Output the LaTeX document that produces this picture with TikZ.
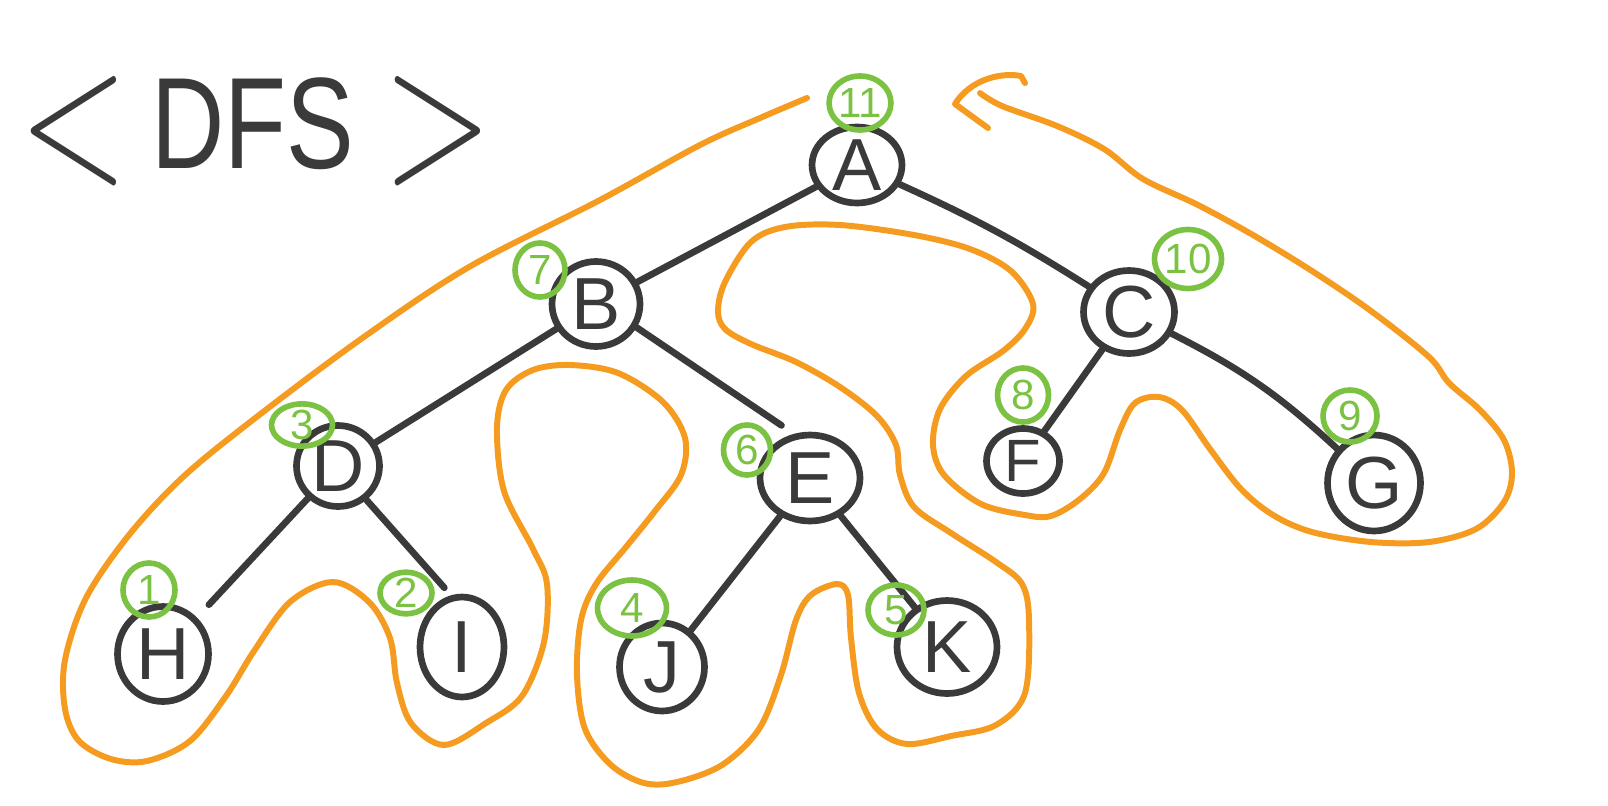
\documentclass[tikz,border=0pt]{standalone}
\usepackage{fontspec}
\setmainfont{Liberation Sans}
\usetikzlibrary{shapes.geometric}
\definecolor{ink}{HTML}{3A3A3A}
\definecolor{marker}{HTML}{F49B20}
\definecolor{leaf}{HTML}{7BC142}

\begin{document}
\begin{tikzpicture}[x=0.02cm,y=-0.02cm,
    dims/.style 2 args={minimum width=#1cm,minimum height=#2cm},
    vtx/.style={ellipse,draw=ink,line width=3.8pt,inner sep=0pt,text=ink,font=\fontsize{42}{42}\selectfont},
    num/.style={ellipse,draw=leaf,line width=3.2pt,inner sep=0pt,text=leaf,font=\fontsize{24}{24}\selectfont},
    link/.style={draw=ink,line width=3.8pt,line cap=round},
    tour/.style={draw=marker,line width=3.4pt,line cap=round,line join=round}]

    \useasboundingbox (0,0) rectangle (1608,805);

    % titel
    \node[text=ink,font=\fontsize{74}{74}\selectfont,anchor=base] (heading) at (256,168)
        {\raisebox{-7pt}{\scalebox{3.27}[4.52]{$<$}}\hspace{13pt}\scalebox{0.78}[1]{DFS}\hspace{17pt}\raisebox{-7pt}{\scalebox{3.27}[4.52]{$>$}}};

    % knoten des baums
    \node[vtx,dims={1.80}{1.52}] (A) at (857,165) {A};
    \node[vtx,dims={1.76}{1.70}] (B) at (596,304) {B};
    \node[vtx,dims={1.82}{1.66}] (C) at (1129,312) {C};
    \node[vtx,dims={1.66}{1.62}] (D) at (338,466) {D};
    \node[vtx,dims={2.00}{1.72}] (E) at (810,478) {E};
    \node[vtx,dims={1.46}{1.30},font=\fontsize{34}{34}\selectfont] (F) at (1023,461) {F};
    \node[vtx,dims={1.86}{1.92}] (G) at (1374,483) {G};
    \node[vtx,dims={1.82}{1.90}] (H) at (163,654) {H};
    \node[vtx,dims={1.68}{2.00}] (I) at (462,647) {I};
    \node[vtx,dims={1.70}{1.76}] (J) at (662,667) {J};
    \node[vtx,dims={2.00}{1.86}] (K) at (947,647) {K};

    % kanten
    \draw[link] (A) -- (B);
    \draw[link] (A) to[bend left=4] (C);
    \draw[link] (B) -- (D);
    \draw[link,shorten >=0.3cm] (B.-30) -- (E.110);
    \draw[link,shorten >=0.35cm] (D) -- (H);
    \draw[link,shorten >=0.2cm] (D.-50) -- (I.102);
    \draw[link] (E) -- (J);
    \draw[link] (E) -- (K);
    \draw[link] (C) -- (F);
    \draw[link] (C) to[bend left=8] (G);

    % reihenfolge (gruen)
    \node[num,dims={1.04}{1.08}] (n1) at (149,590) {1};
    \node[num,dims={1.04}{0.82}] (n2) at (406,593) {2};
    \node[num,dims={1.22}{0.76}] (n3) at (302,425) {3};
    \node[num,dims={1.38}{1.12}] (n4) at (632,608) {4};
    \node[num,dims={1.12}{1.00}] (n5) at (896,610) {5};
    \node[num,dims={0.94}{1.00}] (n6) at (747,450) {6};
    \node[num,dims={1.00}{1.08}] (n7) at (540,270) {7};
    \node[num,dims={1.02}{1.08}] (n8) at (1023,395) {8};
    \node[num,dims={1.08}{1.04}] (n9) at (1350,416) {9};
    \node[num,dims={1.34}{1.18}] (n10) at (1188,259) {10};
    \node[num,dims={1.18}{1.08}] (n11) at (860,103) {11};

    % umlauf (orange)
    \draw[tour] plot[smooth,tension=0.55] coordinates {
        (807,98) (760,118) (700,145) (600,200) (469,267) (361,339) (254,419) (183,477)
        (129,535) (86,598) (65,660) (65,709) (79,741) (111,759) (147,761) (190,741)
        (226,696) (254,651) (290,602) (333,582) (369,602) (390,638) (397,683) (411,723)
        (444,745) (486,723) (522,696) (544,642) (547,584) (533,549) (504,491) (497,428)
        (506,390) (533,370) (570,365) (618,373) (663,402) (685,438) (681,475) (655,511)
        (626,547) (596,584) (581,620) (577,675) (585,729) (611,765) (644,783) (677,782)
        (722,765) (759,729) (781,675) (796,620) (811,595) (837,584) (848,595) (851,638)
        (859,693) (877,729) (907,744) (951,736) (996,725) (1025,693) (1029,620) (1022,584)
        (996,562) (951,533) (914,507) (900,475) (896,445) (877,416) (840,387) (796,362)
        (751,344) (725,329) (718,311) (725,282) (751,242) (785,227) (840,225) (914,235)
        (970,249) (1011,271) (1033,304) (1025,329) (1003,351) (966,376) (940,409) (933,445)
        (944,475) (981,504) (1025,515) (1051,516) (1080,499) (1104,473) (1120,430) (1135,403)
        (1159,397) (1182,410) (1210,449) (1241,489) (1273,515) (1312,532) (1371,542) (1429,542)
        (1476,529) (1504,502) (1512,473) (1504,440) (1480,410) (1449,383) (1429,357) (1371,311)
        (1312,271) (1253,235) (1198,205) (1143,179) (1104,149) (1057,126) (1002,106) (980,93)};
    \draw[tour] (1025,83) -- (1021,76) .. controls (1000,72) and (970,80) .. (955,104) -- (988,128);

\end{tikzpicture}
\end{document}
